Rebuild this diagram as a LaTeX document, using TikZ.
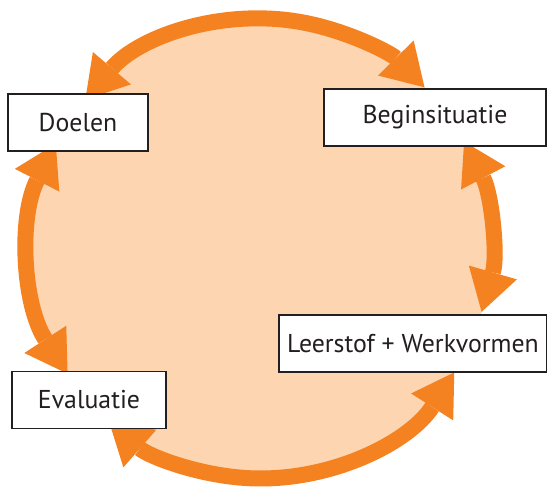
\documentclass[tikz,border=0pt]{standalone}
\usepackage{fontspec}
\setmainfont{PT Sans}
\usetikzlibrary{arrows.meta}
\definecolor{ring}{HTML}{F58220}
\definecolor{peach}{HTML}{FDD5B1}
\definecolor{ink}{HTML}{231F20}
\tikzset{
  fat/.tip={Triangle[length=41pt,width=50pt,line width=0pt]},
  arr/.style={draw=ring, line width=16pt, fat-fat},
  box/.style={draw=ink, line width=1.6pt, fill=white, minimum height=57pt, inner sep=0pt,
              text=ink, font=\fontsize{25.8}{30}\selectfont}
}
\begin{document}
\begin{tikzpicture}[x=1pt,y=1pt]
\useasboundingbox (0,0) rectangle (547,488);
\coordinate (C) at (260.5,239.5);
\fill[peach] (C) circle[radius=230pt];
% tip coordinates
\path (C) ++(139.6:230pt) coordinate (t1a);
\path (C) ++(27.7:230pt) coordinate (t2a);
\path (C) ++(-32.6:230pt) coordinate (t3a);
\path (C) ++(-147:230pt) coordinate (t4a);
\draw[arr] (t1a) arc[start angle=139.6, end angle=44.5, radius=230pt];
\draw[arr] (t2a) arc[start angle=27.7, end angle=-16, radius=230pt];
\draw[arr] (t3a) arc[start angle=-32.6, end angle=-131.2, radius=230pt];
\draw[arr] (t4a) arc[start angle=-147, end angle=-207.1, radius=230pt];
\node[box, minimum width=140pt] (doel) at (78,365.5) {Doelen};
\node[box, minimum width=222pt] (begin) at (435,370.5) {Beginsituatie};
\node[box, minimum width=154pt] (eval) at (89,88) {Evaluatie};
\node[box, minimum width=268pt] (leer) at (413,144.5) {Leerstof + Werkvormen};
\end{tikzpicture}
\end{document}
